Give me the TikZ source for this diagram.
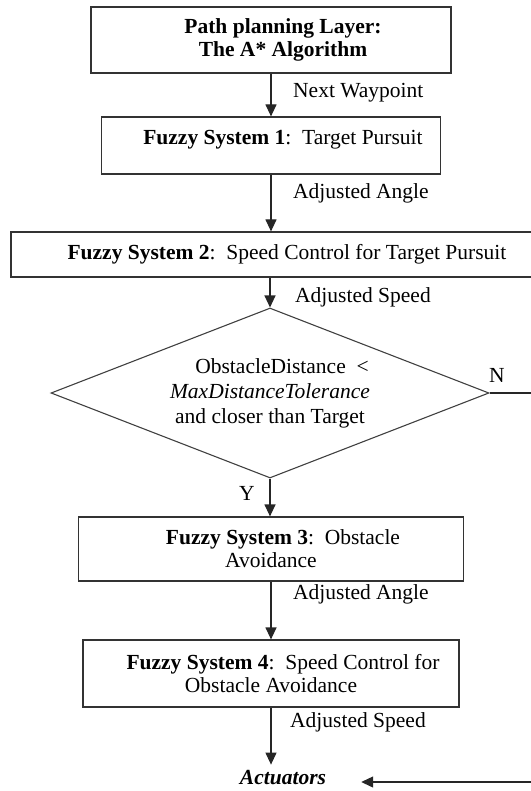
\documentclass[tikz,border=0pt]{standalone}
\usepackage{fontspec}
\setmainfont{Liberation Serif}
\usetikzlibrary{shapes.geometric,arrows.meta}

% first-line indent inside the boxes
\newcommand{\firstind}{\hspace*{24pt}}

\begin{document}
\begin{tikzpicture}[x=1pt,y=-1pt,
    font=\fontsize{21.5}{23}\selectfont,
    flow/.style={-{Triangle[length=12pt,width=11pt]},draw=black!85,line width=1.2pt},
    box/.style={rectangle,draw=black!80,line width=1.2pt,align=center,inner sep=0pt},
    cond/.style={diamond,draw=black!75,line width=1.1pt,aspect=2.6,align=center,
        inner sep=0pt,minimum width=438pt,minimum height=170pt,
        font=\fontsize{21.5}{25}\selectfont},
    lbl/.style={anchor=west,inner sep=0pt},
]
\useasboundingbox (0,0) rectangle (530,791);

% blocks
\node[box,minimum width=360pt,minimum height=66pt] (plan) at (271,40)
    {\firstind\textbf{Path planning Layer:}\\\firstind\textbf{The A* Algorithm}};
\node[box,minimum width=339pt,minimum height=57pt,text depth=16pt] (fs1) at (271,145.5)
    {\firstind\textbf{Fuzzy System 1}:\ \ Target Pursuit};
\node[box,minimum width=528pt,minimum height=45pt] (fs2) at (275,254.5)
    {\firstind\textbf{Fuzzy System 2}:\ \ Speed Control for Target Pursuit};
\node[cond] (check) at (270,393)
    {\firstind ObstacleDistance\ \ <\\\textit{MaxDistanceTolerance}\\and closer than Target};
\node[box,minimum width=385pt,minimum height=64pt] (fs3) at (271,549)
    {\firstind\textbf{Fuzzy System 3}:\ \ Obstacle\\Avoidance};
\node[box,minimum width=376pt,minimum height=67pt] (fs4) at (271,673.5)
    {\firstind\textbf{Fuzzy System 4}:\ \ Speed Control for\\Obstacle Avoidance};
\node[anchor=base,inner sep=5pt] (act) at (283,784) {\textbf{\textit{Actuators}}};
\coordinate (ret) at (545,782);

% connectors
\draw[flow] (plan.south) -- (fs1.north);
\draw[flow] (fs1.south) -- (fs1.south |- fs2.north);
\draw[flow] (fs2.south -| check.north) -- (check.north);
\draw[flow] (check.south) -- (check.south |- fs3.north);
\draw[flow] (fs3.south) -- (fs4.north);
\draw[flow] (fs4.south) -- (fs4.south |- act.north);
\draw[flow,shorten >=30pt] (check.east) -| (ret) -- (ret -| act.east);

% labels
\node[lbl] (l1) at (293,93) {Next Waypoint};
\node[lbl] (l2) at (293,193) {Adjusted Angle};
\node[lbl] (l3) at (295,297) {Adjusted Speed};
\node (ln) at (497,375) {N};
\node (ly) at (247,493) {Y};
\node[lbl] (l4) at (293,594) {Adjusted Angle};
\node[lbl] (l5) at (290,722) {Adjusted Speed};
\end{tikzpicture}
\end{document}
